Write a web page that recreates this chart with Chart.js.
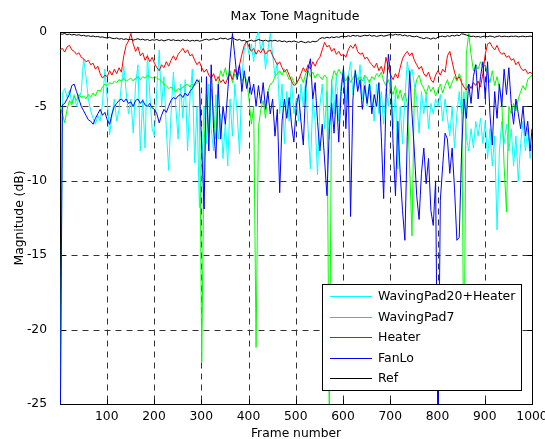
<!DOCTYPE html>
<html>
<head>
<meta charset="utf-8">
<script src="https://cdn.jsdelivr.net/npm/chart.js@4.4.1/dist/chart.umd.min.js"></script>
<style>
html,body{margin:0;padding:0;background:#ffffff;}
canvas{display:block;}
</style>
</head>
<body>
<canvas id="c" width="545" height="439"></canvas>
<script>
// ---- data (one value every 5 frames: 1, 6, 11, ... 996, 1000) ----
const seriesNames = ['WavingPad20+Heater', 'WavingPad7', 'Heater', 'FanLo', 'Ref'];
const seriesColors = ['#00ffff', '#00ff00', '#ff0000', '#0000ff', '#000000'];
const xTicks = [100, 200, 300, 400, 500, 600, 700, 800, 900, 1000];
const yTicks = [-25, -20, -15, -10, -5, 0];

const wavingPad20Heater = [
  -30,-4.1,-3.8,-4.4,-3.9,-4.8,-4.2,-5.0,-4.5,-4.0,
  -1.8,-3.0,-4.5,-5.3,-5.8,-6.2,-5.6,-6.0,-4.8,-2.5,
  -4.5,-6.9,-5.6,-4.5,-6.0,-5.2,-3.5,-2.3,-4.0,-5.5,
  -4.5,-6.8,-3.5,-2.2,-8.0,-4.5,-7.8,-1.5,-4.2,-6.5,
  -7.0,-3.8,-1.2,-5.0,-3.0,-6.5,-9.3,-5.5,-2.7,-5.0,
  -7.2,-3.5,-5.8,-3.2,-8.0,-4.5,-2.5,-8.8,-5.0,-11.8,
  -9.0,-5.0,-7.5,-3.5,-6.5,-8.0,-4.2,-7.2,-5.5,-8.5,
  -6.0,-9.0,-4.5,-7.0,-3.5,-5.5,-8.2,-3.0,-1.2,-0.6,
  -1.5,-0.8,-2.0,-0.4,0.0,-1.2,-0.6,-2.5,-1.2,-0.1,
  -1.5,-3.0,-2.0,-5.5,-3.5,-7.5,-4.0,-6.0,-3.2,-5.5,
  -4.5,-6.0,-3.5,-5.0,-3.2,-6.5,-9.2,-4.5,-6.0,-9.6,
  -5.0,-3.5,-6.5,-4.0,-7.2,-3.2,-5.5,-2.8,-6.0,-3.5,
  -2.5,-4.8,-3.0,-2.0,-4.2,-2.5,-3.8,-2.2,-4.5,-3.0,
  -5.0,-3.2,-4.5,-6.0,-3.5,-5.5,-4.0,-6.2,-3.8,-5.0,
  -3.0,-6.5,-4.0,-9.2,-5.0,-7.5,-4.5,-2.0,-3.0,-2.5,
  -3.5,-4.5,-6.8,-4.0,-5.5,-4.2,-6.5,-4.8,-5.5,-4.5,
  -5.0,-4.2,-6.0,-4.5,-5.8,-7.0,-5.0,-7.8,-5.5,-4.0,
  -5.5,-4.0,-7.0,-8.0,-6.5,-7.8,-6.0,-7.0,-5.8,-7.5,
  -6.0,-8.5,-6.5,-9.0,-7.0,-13.3,-8.0,-6.0,-7.5,-6.2,
  -8.0,-6.5,-9.0,-7.0,-10.0,-7.5,-6.0,-8.0,-6.5,-8.5,
  -7.5
];

const wavingPad7 = [
  -5.0,-5.5,-6.1,-5.2,-4.6,-4.9,-4.3,-4.6,-4.2,-4.4,
  -4.3,-4.5,-4.2,-4.4,-4.1,-4.3,-3.9,-4.0,-3.7,-3.5,
  -3.6,-3.4,-3.5,-3.3,-3.4,-3.2,-3.3,-3.1,-3.3,-3.2,
  -3.1,-3.3,-3.1,-3.0,-3.2,-3.0,-3.1,-2.9,-3.0,-3.1,
  -3.0,-3.1,-3.2,-3.3,-3.5,-3.6,-3.8,-3.7,-3.9,-4.0,
  -3.8,-3.9,-3.7,-3.6,-3.5,-3.7,-3.5,-3.6,-3.4,-3.2,
  -22.2,-7.5,-4.2,-6.8,-3.8,-5.5,-7.2,-3.5,-2.6,-3.0,
  -2.4,-3.2,-2.6,-3.4,-2.8,-3.1,-2.7,-3.3,-3.0,-3.2,
  -4.5,-6.2,-5.0,-21.2,-6.4,-5.2,-4.6,-5.8,-4.0,-3.5,
  -3.4,-3.0,-2.8,-2.6,-2.9,-2.5,-2.8,-3.2,-3.0,-3.4,
  -3.5,-3.2,-3.0,-3.4,-2.8,-2.6,-3.0,-2.7,-3.1,-2.8,
  -3.0,-3.2,-2.9,-3.1,-27,-3.3,-2.6,-2.9,-2.5,-2.8,
  -3.0,-3.3,-2.9,-3.4,-3.1,-2.8,-3.2,-3.0,-3.3,-2.9,
  -3.1,-3.4,-3.0,-3.2,-2.8,-3.0,-2.7,-3.3,-3.6,-3.2,
  -3.8,-4.2,-3.6,-4.5,-3.9,-4.6,-4.1,-4.8,-9.0,-13.7,
  -4.0,-3.2,-2.9,-3.5,-3.8,-4.2,-3.6,-4.0,-3.7,-4.3,
  -3.9,-3.5,-4.1,-3.6,-3.2,-3.8,-3.4,-3.0,-3.3,-2.8,
  -3.2,-24,-1.5,-0.1,-1.5,-2.6,-2.2,-2.5,-2.0,-2.4,
  -2.2,-2.8,-3.4,-2.6,-3.6,-3.0,-3.8,-4.5,-9.0,-12.1,
  -5.0,-5.5,-4.8,-5.3,-4.5,-4.0,-3.6,-3.9,-3.2,-3.0,
  -2.9
];

const heater = [
  -1.2,-1.1,-1.35,-1.0,-0.9,-1.2,-1.3,-1.5,-1.4,-1.7,
  -1.8,-2.0,-1.9,-2.2,-2.1,-2.5,-2.3,-2.8,-3.1,-2.9,
  -3.0,-2.6,-2.9,-2.5,-2.8,-2.4,-2.7,-1.6,-0.9,-0.6,
  -0.1,-0.8,-1.3,-1.0,-1.6,-1.4,-1.9,-1.6,-2.0,-1.7,
  -2.1,-2.4,-2.6,-2.2,-2.4,-2.0,-2.3,-1.9,-1.6,-1.9,
  -1.5,-1.3,-1.1,-1.4,-1.2,-1.6,-1.5,-1.9,-2.2,-2.0,
  -2.4,-2.7,-2.5,-2.9,-3.1,-2.8,-3.3,-3.0,-3.4,-3.2,
  -3.5,-3.1,-2.8,-3.2,-2.5,-2.9,-2.2,-1.5,-0.9,-0.6,
  -1.0,-1.3,-1.1,-1.5,-1.2,-1.4,-1.1,-1.5,-1.3,-1.2,
  -1.6,-1.9,-2.2,-2.0,-2.4,-2.7,-2.5,-2.9,-3.3,-3.6,
  -3.5,-3.2,-2.8,-2.4,-2.7,-2.2,-2.5,-2.0,-2.3,-1.9,
  -1.7,-1.2,-0.7,-1.0,-0.9,-1.3,-1.1,-1.5,-1.3,-1.6,
  -1.5,-1.7,-1.2,-0.9,-1.1,-0.8,-1.3,-1.5,-1.4,-1.8,
  -1.7,-2.0,-2.2,-2.4,-2.1,-2.6,-2.3,-2.8,-1.7,-2.4,
  -2.9,-3.2,-2.8,-3.1,-2.4,-1.8,-1.5,-1.3,-1.6,-1.4,
  -1.9,-2.2,-2.5,-2.3,-2.8,-3.0,-2.7,-3.2,-3.4,-2.9,
  -2.6,-2.9,-2.5,-2.7,-1.6,-1.3,-2.0,-2.7,-3.2,-3.0,
  -3.4,-3.7,-3.9,-3.5,-3.8,-3.4,-3.6,-3.3,-3.7,-2.8,
  -1.5,-0.8,-0.7,-1.0,-1.2,-0.9,-1.3,-1.5,-1.4,-1.7,
  -1.6,-1.9,-1.8,-2.2,-2.0,-2.4,-2.6,-2.5,-2.8,-2.7,
  -2.8
];

const fanLo = [
  -30,-4.9,-4.8,-4.5,-4.2,-3.6,-3.5,-4.0,-4.5,-5.0,
  -5.3,-5.6,-5.9,-6.0,-6.2,-5.8,-5.5,-5.2,-5.6,-5.4,
  -5.9,-6.2,-5.5,-5.0,-4.8,-4.6,-4.5,-4.7,-4.5,-4.8,
  -4.7,-5.0,-4.6,-4.5,-4.8,-4.6,-4.9,-5.0,-4.8,-5.1,
  -5.2,-5.5,-6.1,-5.6,-5.2,-5.4,-5.0,-4.6,-4.4,-4.5,
  -4.3,-4.2,-4.4,-4.1,-4.3,-4.0,-3.8,-3.5,-3.2,-3.4,
  -7.8,-11.9,-3.0,-8.0,-2.2,-6.5,-8.5,-3.5,-7.2,-5.0,
  -6.2,-4.0,-1.8,-0.1,-1.6,-3.2,-2.2,-4.0,-2.6,-3.8,
  -3.0,-4.2,-3.5,-5.0,-3.6,-4.8,-3.4,-5.2,-4.0,-5.5,
  -4.5,-7.0,-5.2,-10.8,-6.0,-4.5,-5.8,-4.4,-6.2,-7.4,
  -5.0,-4.2,-6.0,-7.6,-3.8,-2.5,-1.8,-4.5,-3.4,-6.0,
  -8.0,-6.2,-8.6,-11.0,-6.5,-4.8,-6.8,-4.2,-7.4,-4.0,
  -2.4,-6.5,-3.0,-12.4,-4.5,-2.6,-4.0,-3.2,-5.2,-3.6,
  -4.8,-3.5,-5.5,-4.2,-5.0,-3.4,-7.0,-11.2,-4.5,-1.5,
  -3.0,-7.5,-11.0,-6.0,-9.5,-12.0,-14.0,-7.0,-2.6,-5.5,
  -8.0,-11.0,-12.6,-9.5,-7.8,-10.2,-8.5,-12.0,-13.0,-10.0,
  -28,-11.3,-9.0,-6.8,-7.2,-9.5,-7.8,-10.5,-14.0,-13.8,
  -8.0,-4.5,-5.8,-3.5,-4.8,-3.0,-2.2,-4.5,-3.0,-2.0,
  -4.5,-2.0,-5.5,-7.6,-4.0,-5.8,-3.5,-5.0,-2.5,-4.2,
  -2.4,-4.8,-6.2,-4.5,-5.5,-6.5,-5.0,-7.0,-6.0,-8.0,
  -6.5
];

const ref = [
  -0.12,-0.15,-0.1,-0.18,-0.14,-0.2,-0.16,-0.22,-0.18,-0.25,
  -0.22,-0.28,-0.25,-0.3,-0.27,-0.32,-0.3,-0.35,-0.33,-0.38,
  -0.4,-0.36,-0.42,-0.45,-0.4,-0.48,-0.44,-0.5,-0.46,-0.52,
  -0.48,-0.55,-0.5,-0.45,-0.52,-0.48,-0.55,-0.5,-0.58,-0.52,
  -0.55,-0.5,-0.58,-0.53,-0.6,-0.55,-0.5,-0.57,-0.52,-0.58,
  -0.55,-0.6,-0.52,-0.58,-0.54,-0.62,-0.56,-0.6,-0.55,-0.62,
  -0.58,-0.52,-0.48,-0.55,-0.5,-0.45,-0.52,-0.48,-0.4,-0.46,
  -0.42,-0.5,-0.45,-0.38,-0.48,-0.55,-0.5,-0.6,-0.55,-0.65,
  -0.6,-0.55,-0.62,-0.58,-0.5,-0.56,-0.6,-0.55,-0.62,-0.58,
  -0.6,-0.55,-0.62,-0.58,-0.65,-0.6,-0.68,-0.62,-0.66,-0.6,
  -0.65,-0.7,-0.62,-0.68,-0.72,-0.65,-0.7,-0.62,-0.66,-0.6,
  -0.45,-0.38,-0.42,-0.35,-0.4,-0.33,-0.38,-0.32,-0.36,-0.3,
  -0.28,-0.32,-0.25,-0.3,-0.22,-0.27,-0.24,-0.3,-0.26,-0.22,
  -0.25,-0.2,-0.28,-0.24,-0.3,-0.26,-0.22,-0.28,-0.25,-0.2,
  -0.18,-0.22,-0.15,-0.2,-0.17,-0.25,-0.2,-0.28,-0.24,-0.3,
  -0.32,-0.28,-0.35,-0.4,-0.45,-0.38,-0.42,-0.48,-0.4,-0.45,
  -0.35,-0.3,-0.28,-0.33,-0.25,-0.3,-0.22,-0.27,-0.2,-0.25,
  -0.12,-0.15,-0.2,-0.25,-0.3,-0.28,-0.33,-0.3,-0.35,-0.3,
  -0.28,-0.32,-0.27,-0.3,-0.35,-0.3,-0.26,-0.32,-0.28,-0.3,
  -0.32,-0.28,-0.3,-0.27,-0.33,-0.3,-0.28,-0.32,-0.3,-0.28,
  -0.3
];

// frame number for each sample
const frames = ref.map((_, i) => Math.min(1 + 5 * i, 1000));
const seriesValues = [wavingPad20Heater, wavingPad7, heater, fanLo, ref];

const FONT = "'DejaVu Sans', 'Liberation Sans', sans-serif";

const matlabAxes = {
  id: 'matlabAxes',
  beforeDatasetsDraw(chart) {
    const { ctx, chartArea: a, scales: { x, y } } = chart;
    const L = Math.round(a.left) + 0.5, R = Math.round(a.right) + 0.5;
    const T = Math.round(a.top) + 0.5, B = Math.round(a.bottom) + 0.5;
    const seg = (x1, y1, x2, y2) => { ctx.beginPath(); ctx.moveTo(x1, y1); ctx.lineTo(x2, y2); ctx.stroke(); };
    ctx.save();
    ctx.lineWidth = 1;
    // dashed grid
    ctx.strokeStyle = '#333333';
    ctx.setLineDash([6, 5]);
    xTicks.forEach(v => {
      const px = Math.round(x.getPixelForValue(v)) + 0.5;
      if (px > L + 1 && px < R - 1) seg(px, T, px, B);
    });
    yTicks.forEach(v => {
      const py = Math.round(y.getPixelForValue(v)) + 0.5;
      if (py > T + 1 && py < B - 1) seg(L, py, R, py);
    });
    ctx.setLineDash([]);
    // inward tick marks
    ctx.strokeStyle = '#000000';
    const tl = 5;
    xTicks.forEach(v => {
      const px = Math.round(x.getPixelForValue(v)) + 0.5;
      seg(px, B, px, B - tl); seg(px, T, px, T + tl);
    });
    yTicks.forEach(v => {
      const py = Math.round(y.getPixelForValue(v)) + 0.5;
      seg(L, py, L + tl, py); seg(R, py, R - tl, py);
    });
    // box
    ctx.strokeRect(L, T, R - L, B - T);
    ctx.restore();
  },
  afterDraw(chart) {
    const { ctx, chartArea: a, scales: { x } } = chart;
    ctx.save();
    ctx.fillStyle = '#000';
    // x tick labels, placed on the x scale's pixels
    ctx.font = '12.3px ' + FONT;
    ctx.textAlign = 'center';
    ctx.textBaseline = 'alphabetic';
    xTicks.forEach(v => ctx.fillText(String(v), x.getPixelForValue(v), Math.round(a.bottom) + 16));
    // title
    ctx.font = '12.5px ' + FONT;
    ctx.fillText('Max Tone Magnitude', (a.left + a.right) / 2 - 1, 19.5);
    // legend box
    const bx = Math.round(a.right) - 210, by = Math.round(a.bottom) - 120;
    const bw = 199, bh = 106;
    ctx.fillStyle = '#ffffff';
    ctx.fillRect(bx, by, bw, bh);
    ctx.strokeStyle = '#000000';
    ctx.lineWidth = 1;
    ctx.strokeRect(bx + 0.5, by + 0.5, bw, bh);
    ctx.font = '12.5px ' + FONT;
    ctx.textAlign = 'left';
    ctx.textBaseline = 'middle';
    chart.data.datasets.forEach((ds, i) => {
      const ry = Math.round(by + 12 + 20.5 * i) + 0.5;
      ctx.strokeStyle = ds.borderColor;
      ctx.beginPath(); ctx.moveTo(bx + 8, ry); ctx.lineTo(bx + 50, ry); ctx.stroke();
      ctx.fillStyle = '#000';
      ctx.fillText(ds.label, bx + 56, ry + 0.5);
    });
    ctx.restore();
  }
};

const datasets = seriesNames.map((name, k) => ({
  label: name,
  data: seriesValues[k].map((v, i) => ({ x: frames[i], y: v })),
  borderColor: seriesColors[k],
  backgroundColor: seriesColors[k],
  borderWidth: 1,
  pointRadius: 0,
  tension: 0,
  fill: false,
  order: seriesNames.length - k   // later series drawn on top, like MATLAB
}));

const zeroPad = s => { s.paddingLeft = 0; s.paddingRight = 0; s.paddingTop = 0; s.paddingBottom = 0; };

new Chart(document.getElementById('c'), {
  type: 'line',
  data: { datasets },
  plugins: [matlabAxes],
  options: {
    responsive: false,
    animation: false,
    events: [],
    layout: { padding: { top: 32, right: 13, left: 0, bottom: 0 } },
    plugins: { legend: { display: false }, tooltip: { enabled: false }, title: { display: false } },
    scales: {
      x: {
        type: 'linear', min: 1, max: 1000,
        grid: { display: false }, border: { display: false },
        afterBuildTicks: s => { s.ticks = xTicks.map(v => ({ value: v })); },
        afterFit: s => { s.height = 35; zeroPad(s); },
        ticks: { display: false },
        title: { display: true, text: 'Frame number', color: '#000',
                 font: { family: FONT, size: 12.3, lineHeight: 0.9 }, padding: { top: 0, bottom: 0 } }
      },
      y: {
        type: 'linear', min: -25, max: 0,
        grid: { display: false }, border: { display: false },
        afterBuildTicks: s => { s.ticks = yTicks.map(v => ({ value: v })); },
        afterFit: s => { s.width = 60; zeroPad(s); },
        ticks: { color: '#000', padding: 5, autoSkip: false,
                 font: { family: FONT, size: 12.3 }, callback: v => String(v) },
        title: { display: true, text: 'Magnitude (dB)', color: '#000',
                 font: { family: FONT, size: 12.3, lineHeight: 0.9 }, padding: { top: 14, bottom: 0 } }
      }
    }
  }
});
</script>
</body>
</html>
